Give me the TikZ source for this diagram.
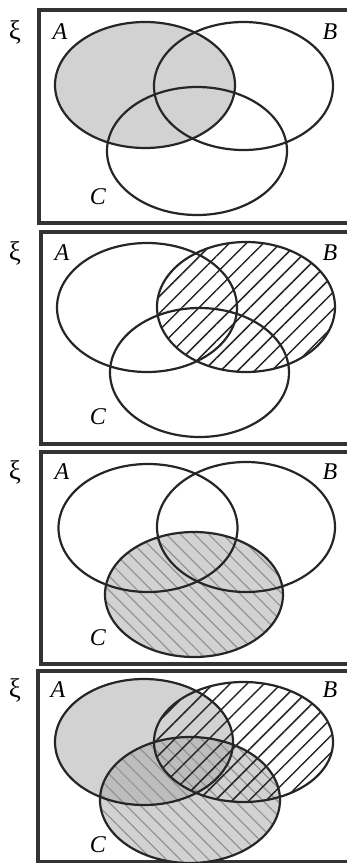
\documentclass[tikz,border=0pt]{standalone}
\usepackage{fontspec}
\setmainfont{Liberation Serif}
\usepackage{tikz}
\usetikzlibrary{patterns.meta}

\begin{document}
\begin{tikzpicture}[
    x=1pt, y=-1pt,
    vennframe/.style={draw=black!80, line width=3.2pt},
    setline/.style={draw=black!85, line width=2.2pt},
    lbl/.style={inner sep=0pt, font=\fontsize{24}{24}\selectfont},
    grayfill/.style={fill=gray!35},
    darkfill/.style={fill=gray!52},
    hatchB/.style={pattern={Lines[angle=45,distance=12pt,line width=1.5pt]}, pattern color=black!85},
    hatchC/.style={pattern={Lines[angle=-45,distance=10pt,line width=1.2pt]}, pattern color=gray!85}
]
\useasboundingbox (0,0) rectangle (347,863);

% frames
\draw[vennframe] (39,10) rectangle (360,223);
\draw[vennframe] (41,232) rectangle (360,444);
\draw[vennframe] (41,452) rectangle (360,664);
\draw[vennframe] (38,671) rectangle (360,862);

% labels
\foreach \n/\yy/\ax/\cy in {1/32/60/197, 2/253/62/417, 3/472/62/638, 4/690/58/845} {
  \node[lbl, font=\fontsize{27}{27}\selectfont] (xi\n) at (15,\yy) {ξ};
  \node[lbl] (A\n) at (\ax,\yy) {\textit{A}};
  \node[lbl] (B\n) at (330,\yy) {\textit{B}};
  \node[lbl] (C\n) at (98,\cy) {\textit{C}};
}

% panel 1: A
\fill[grayfill] (145,85) ellipse [x radius=90, y radius=63];
\draw[setline] (145,85) ellipse [x radius=90, y radius=63];
\draw[setline] (243.5,86) ellipse [x radius=89.5, y radius=64];
\draw[setline] (197,151) ellipse [x radius=90, y radius=64];

% panel 2: B
\fill[hatchB] (246,307) ellipse [x radius=89, y radius=65];
\draw[setline] (147,307.5) ellipse [x radius=90, y radius=64.5];
\draw[setline] (246,307) ellipse [x radius=89, y radius=65];
\draw[setline] (199.5,372.5) ellipse [x radius=89.5, y radius=64.5];

% panel 3: C
\fill[grayfill] (194,594.5) ellipse [x radius=89, y radius=62.5];
\fill[hatchC] (194,594.5) ellipse [x radius=89, y radius=62.5];
\draw[setline] (148,528) ellipse [x radius=89.5, y radius=64];
\draw[setline] (246,527) ellipse [x radius=89, y radius=65];
\draw[setline] (194,594.5) ellipse [x radius=89, y radius=62.5];

% panel 4: A, B and C together
\fill[grayfill] (144,742) ellipse [x radius=89, y radius=63];
\fill[grayfill] (190,800) ellipse [x radius=90, y radius=63];
\begin{scope}
  \clip (144,742) ellipse [x radius=89, y radius=63];
  \fill[darkfill] (190,800) ellipse [x radius=90, y radius=63];
\end{scope}
\fill[hatchC] (190,800) ellipse [x radius=90, y radius=63];
\fill[hatchB] (243.5,742) ellipse [x radius=89.5, y radius=60];
\draw[setline] (144,742) ellipse [x radius=89, y radius=63];
\draw[setline] (243.5,742) ellipse [x radius=89.5, y radius=60];
\draw[setline] (190,800) ellipse [x radius=90, y radius=63];
\end{tikzpicture}
\end{document}
